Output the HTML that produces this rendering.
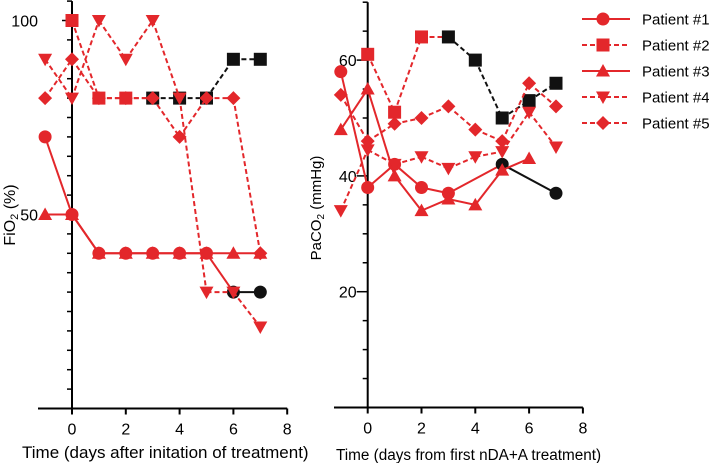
<!DOCTYPE html>
<html><head><meta charset="utf-8"><style>
html,body{margin:0;padding:0;background:#fff;}
svg{display:block;font-family:"Liberation Sans",Arial,sans-serif;}
</style></head><body>
<svg id="chart" width="709" height="463" viewBox="0 0 709 463" xmlns="http://www.w3.org/2000/svg"></svg>
<script>
const days = [-1,0,1,2,3,4,5,6,7];
const fio2P1 = [70,50,40,40,40,40,40,30,30];
const fio2P2 = [null,100,80,80,80,80,80,90,90];
const fio2P3 = [50,50,40,40,40,40,40,40,40];
const fio2P4 = [90,80,100,90,100,80,30,30,21];
const fio2P5 = [80,90,80,80,80,70,80,80,40];
const fio2BlackFrom = [6,3,99,99,99];
const pacoP1 = [58,38,42,38,37,null,42,null,37];
const pacoP2 = [null,61,51,64,64,60,50,53,56];
const pacoP3 = [48,55,40,34,36,35,41,43,null];
const pacoP4 = [34,44.5,42,43.3,41.3,43.3,44.2,51,45];
const pacoP5 = [54,46,49,50,52,48,46,56,52];
const pacoBlackFrom = [5,3,99,99,99];
const xTicks = [0,2,4,6,8];
const fio2Labels = [100,50];
const pacoLabels = [60,40,20];
const patientNames = ["Patient #1","Patient #2","Patient #3","Patient #4","Patient #5"];

const RED = "#e3272b", BLK = "#111";
const NS = "http://www.w3.org/2000/svg";
const svg = document.getElementById('chart');
function mk(tag, attrs, parent){ const e=document.createElementNS(NS,tag); for(const k in attrs) e.setAttribute(k,attrs[k]); (parent||svg).appendChild(e); return e; }
const shapes = ['circle','square','tri','tridown','diamond'];
const dashedP = [false,true,false,true,true];
function marker(g, shape, x, y, color){
  let e;
  if(shape==='circle') e=mk('circle',{cx:x,cy:y,r:6.5,fill:color},g);
  else if(shape==='square') e=mk('rect',{x:x-6.5,y:y-6.5,width:13,height:13,fill:color},g);
  else if(shape==='tri') e=mk('polygon',{points:`${x},${y-7} ${x+7},${y+5.5} ${x-7},${y+5.5}`,fill:color},g);
  else if(shape==='tridown') e=mk('polygon',{points:`${x-7},${y-5.5} ${x+7},${y-5.5} ${x},${y+7}`,fill:color},g);
  else e=mk('polygon',{points:`${x},${y-7} ${x+7},${y} ${x},${y+7} ${x-7},${y}`,fill:color},g);
  
  
}
function panel(cfg){
  const xs = v => cfg.x0 + v*cfg.dx;
  const ys = v => cfg.yBase - (v-cfg.ymin)*cfg.dy;
  const g = mk('g',{});
  
  
  const ax = mk('line',{x1:cfg.axL,y1:cfg.yBase,x2:xs(8),y2:cfg.yBase,stroke:'#000','stroke-width':2},g);
   
  const ay = mk('line',{x1:xs(0),y1:cfg.yBase,x2:xs(0),y2:ys(cfg.ymax),stroke:'#000','stroke-width':2},g);
   
  xTicks.forEach(t=>{
    mk('line',{x1:xs(t),y1:cfg.yBase,x2:xs(t),y2:cfg.yBase+6,stroke:'#000','stroke-width':2},g);
    const tx=mk('text',{x:xs(t),y:cfg.yBase+26,'text-anchor':'middle','font-size':16},g); tx.textContent=t;
     
  });
  for(let v=cfg.ymin+5; v<=cfg.ymax+0.01; v+=5){
    const major = cfg.labels.includes(v);
    mk('line',{x1:xs(0)-(major?cfg.majLen:5),y1:ys(v),x2:xs(0),y2:ys(v),stroke:'#000','stroke-width':1.5},g);
  }
  cfg.labels.forEach(v=>{
    const tx=mk('text',{x:xs(0)-cfg.lblOff,y:ys(v)+6,'text-anchor':'end','font-size':16},g); tx.textContent=v;
     
  });
  cfg.series.forEach((arr,i)=>{
    const sg = mk('g',{},g);
    
    
    let prev=null;
    arr.forEach((v,j)=>{
      if(v===null) return;
      if(prev){
        const col = days[prev.j] >= cfg.black[i] ? BLK : RED;
        const a={x1:xs(days[prev.j]),y1:ys(prev.v),x2:xs(days[j]),y2:ys(v),stroke:col,'stroke-width':2};
        if(dashedP[i]) a['stroke-dasharray']='5,3';
        mk('line',a,sg);
      }
      prev={v,j};
    });
    arr.forEach((v,j)=>{ if(v===null) return; marker(sg,shapes[i],xs(days[j]),ys(v),days[j]>=cfg.black[i]?BLK:RED); });
  });
}
panel({name:'fio2-chart',x0:72,dx:26.9,yBase:408.5,ymin:0,ymax:105,dy:3.88,axL:38,labels:fio2Labels,lblOff:34,majLen:10,
  series:[fio2P1,fio2P2,fio2P3,fio2P4,fio2P5],black:fio2BlackFrom});
panel({name:'paco2-chart',x0:367.7,dx:26.9,yBase:407.5,ymin:0,ymax:70,dy:5.79,axL:334,labels:pacoLabels,lblOff:11,majLen:11,
  series:[pacoP1,pacoP2,pacoP3,pacoP4,pacoP5],black:pacoBlackFrom});
let t=mk('text',{x:0,y:0,'font-size':16,'text-anchor':'middle',transform:'translate(15,215) rotate(-90)'});
t.innerHTML='FiO<tspan font-size="11" dy="3">2</tspan><tspan dy="-3"> (%)</tspan>';
 
t=mk('text',{x:0,y:0,'font-size':15,'text-anchor':'middle',transform:'translate(321,208) rotate(-90)'});
t.innerHTML='PaCO<tspan font-size="10" dy="3">2</tspan><tspan dy="-3"> (mmHg)</tspan>';
 
t=mk('text',{x:22,y:458,'font-size':17}); t.textContent='Time (days after initation of treatment)';
 
t=mk('text',{x:336,y:460,'font-size':15.3}); t.textContent='Time (days from first nDA+A treatment)';
 
const lg = mk('g',{});
 
patientNames.forEach((n,i)=>{
  const y=19+26*i;
  const eg=mk('g',{},lg);
   
  const a={x1:582,y1:y,x2:630,y2:y,stroke:RED,'stroke-width':2};
  if(dashedP[i]) a['stroke-dasharray']='5,3';
  mk('line',a,eg);
  marker(eg,shapes[i],603,y,RED);
  const tx=mk('text',{x:642,y:y+5.5,'font-size':15},eg); tx.textContent=n;
});
</script>
</body></html>
